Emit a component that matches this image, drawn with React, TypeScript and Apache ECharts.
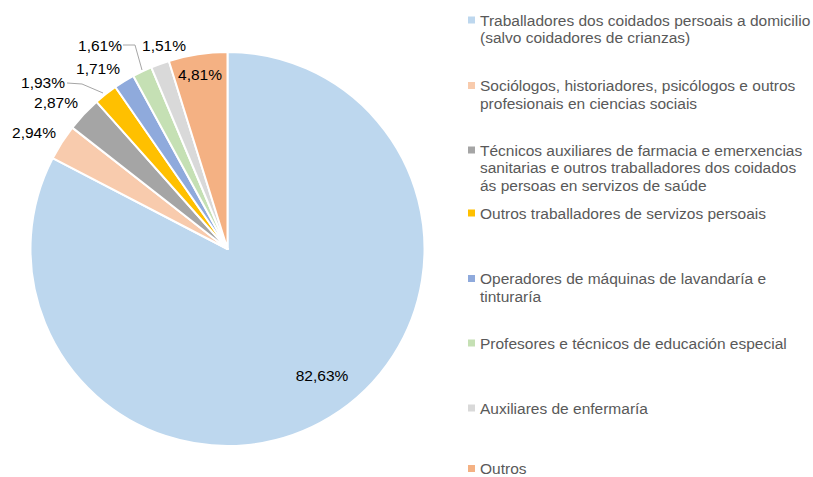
import React, { useEffect, useRef } from "react";
import * as echarts from "echarts";

const categories = [
  "Traballadores dos coidados persoais a domicilio (salvo coidadores de crianzas)",
  "Sociólogos, historiadores, psicólogos e outros profesionais en ciencias sociais",
  "Técnicos auxiliares de farmacia e emerxencias sanitarias e outros traballadores dos coidados ás persoas en servizos de saúde",
  "Outros traballadores de servizos persoais",
  "Operadores de máquinas de lavandaría e tinturaría",
  "Profesores e técnicos de educación especial",
  "Auxiliares de enfermaría",
  "Outros",
];

const legendLines = [
  ["Traballadores dos coidados persoais a domicilio", "(salvo coidadores de crianzas)"],
  ["Sociólogos, historiadores, psicólogos e outros", "profesionais en ciencias sociais"],
  ["Técnicos auxiliares de farmacia e emerxencias", "sanitarias e outros traballadores dos coidados", "ás persoas en servizos de saúde"],
  ["Outros traballadores de servizos persoais"],
  ["Operadores de máquinas de lavandaría e", "tinturaría"],
  ["Profesores e técnicos de educación especial"],
  ["Auxiliares de enfermaría"],
  ["Outros"],
];

const values = [82.63, 2.94, 2.87, 1.93, 1.71, 1.61, 1.51, 4.81];

const colors = ["#BDD7EE", "#F8CBAD", "#A5A5A5", "#FFC000", "#8FAADC", "#C5E0B4", "#D9D9D9", "#F4B183"];

// layout (not data)
const CX = 227.5;
const CY = 249;
const R = 197;
const LINE_H = 17.5;
const FONT = 15.5;
const legendFirstLineCenters = [20, 85.5, 150, 213, 278.5, 343, 408, 466.5];
const legendLineHeights = [LINE_H, LINE_H, LINE_H, LINE_H, LINE_H, LINE_H, LINE_H, 12];
const labelCenters: [number, number][] = [
  [322, 375],
  [34, 132],
  [56, 102.5],
  [43, 82.5],
  [98, 68],
  [100, 45],
  [164, 45],
  [200, 74],
];
const labelLines: Record<number, [number, number][]> = {
  3: [
    [67, 83],
    [82, 84],
    [103, 93],
  ],
  5: [
    [123, 45],
    [135, 45],
    [142, 70],
  ],
};

function fmt(v: number) {
  return v.toFixed(2).replace(".", ",") + "%";
}

export default function App() {
  const ref = useRef<HTMLDivElement>(null);
  useEffect(() => {
    document.body.style.margin = "0";
    if (!ref.current) return;
    const chart = echarts.init(ref.current, undefined, { renderer: "svg" });

    const legends = categories.map((name, i) => {
      const n = legendLines[i].length;
      const lh = legendLineHeights[i];
      const H = n * lh;
      const sq = lh / 2 - 3.5;
      const icon = `path://M0,0h0.01v0.01h-0.01zM0,${sq}h7v7h-7zM0,${H - 0.01}h0.01v0.01h-0.01z`;
      return {
        show: true,
        orient: "vertical",
        left: 468,
        top: legendFirstLineCenters[i] - lh / 2,
        padding: 0,
        itemGap: 0,
        itemWidth: 7,
        itemHeight: H,
        icon,
        selectedMode: false,
        data: [name],
        itemStyle: { borderWidth: 0 },
        formatter: () => legendLines[i].join("\n"),
        textStyle: {
          fontFamily: "Liberation Sans, Arial, sans-serif",
          fontSize: FONT,
          lineHeight: lh,
          color: "#595959",
          padding: 0,
        },
      };
    });

    chart.setOption({
      animation: false,
      color: colors,
      legend: legends,
      series: [
        {
          type: "pie",
          center: [CX, CY],
          radius: [0, R],
          startAngle: 90,
          clockwise: true,
          avoidLabelOverlap: false,
          itemStyle: { borderColor: "#ffffff", borderWidth: 2 },
          label: {
            show: true,
            position: "inside",
            formatter: (p: any) => fmt(p.value),
            fontFamily: "Liberation Sans, Arial, sans-serif",
            fontSize: FONT,
            color: "#000000",
          },
          labelLine: { show: false },
          emphasis: { disabled: true },
          labelLayout: (p: any) => {
            const c = labelCenters[p.dataIndex];
            return {
              x: c[0],
              y: c[1],
              align: "center",
              verticalAlign: "middle",
            };
          },
          data: categories.map((name, i) => ({
            name,
            value: values[i],
            itemStyle: { color: colors[i] },
          })),
        },
      ],
      graphic: Object.keys(labelLines).map((k) => ({
        type: "polyline",
        shape: { points: labelLines[Number(k)] },
        style: { stroke: "#A6A6A6", lineWidth: 1, fill: "none" },
        silent: true,
      })),
    });
    return () => chart.dispose();
  }, []);
  return <div ref={ref} style={{ width: 813, height: 477 }} />;
}
